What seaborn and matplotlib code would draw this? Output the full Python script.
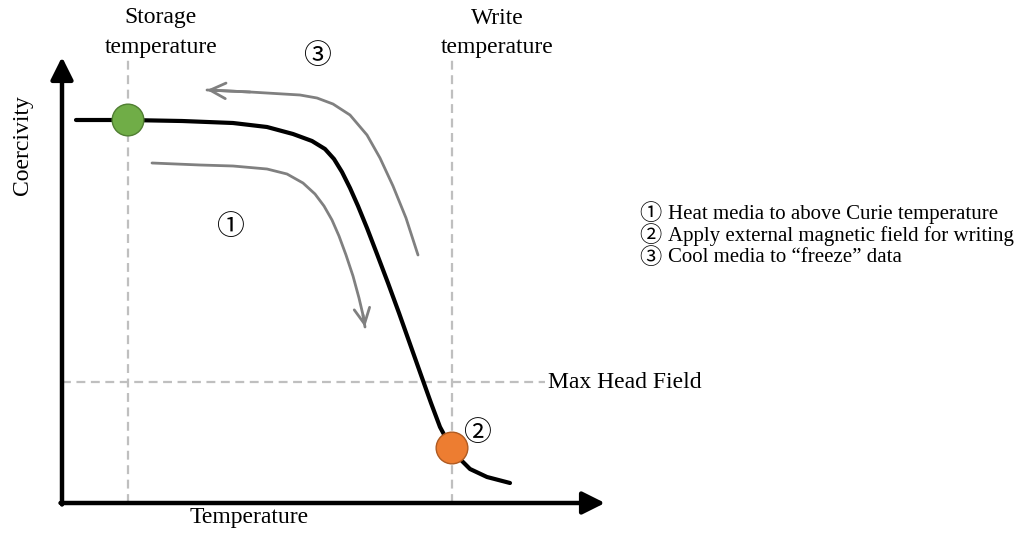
import matplotlib
matplotlib.use("Agg")
import matplotlib.pyplot as plt
import pandas as pd
import seaborn as sns

# coercivity vs temperature curve (arbitrary units, origin at the axes corner)
curve_temp = [14, 66, 120, 171, 205, 231, 250, 263, 272, 280, 288, 296, 305, 315,
              326, 337, 348, 359, 369, 378, 385, 390, 397, 408, 425, 448]
curve_coer = [383, 383, 382, 380, 376, 369, 362, 354, 344, 331, 315, 297, 275, 249,
              220, 190, 159, 128, 100, 76, 63, 55, 45, 34, 26, 20]

# step 1 arrow (heating) and step 3 arrow (cooling)
heat_temp = [90, 138, 171, 205, 225, 241, 253, 262, 270, 277, 284, 291, 297, 301, 303]
heat_coer = [340, 338, 337, 334, 329, 320, 309, 297, 283, 267, 248, 227, 205, 188, 176]
cool_temp = [356, 344, 331, 318, 305, 288, 271, 255, 238, 188, 145]
cool_coer = [248, 285, 317, 345, 368, 388, 399, 405, 408, 411, 413]

storage_temp = 66
write_temp = 390
max_head_field = 121
points_temp = [66, 390]
points_coer = [383, 55]
point_colors = ["#70AD47", "#ED7D31"]
point_edges = ["#507E32", "#AE5A21"]

step_marks = ["①", "②", "③"]
legend_lines = ["Heat media to above Curie temperature",
                "Apply external magnetic field for writing",
                "Cool media to \u201cfreeze\u201d data"]

sns.set_theme(style="white")
plt.rcParams["font.family"] = ["Liberation Serif", "DejaVu Sans"]
plt.rcParams["text.color"] = "black"

fig = plt.figure(figsize=(10.26, 5.33), dpi=100)
ax = fig.add_axes([0, 0, 1, 1])
ax.set_xlim(-62, 964)
ax.set_ylim(-30, 503)
ax.axis("off")

grey = "#BFBFBF"
dash = dict(color=grey, lw=1.6, ls=(0, (4, 2.5)), zorder=1)
ax.plot([storage_temp, storage_temp], [0, 446], **dash)
ax.plot([write_temp, write_temp], [0, 446], **dash)
ax.plot([0, 483], [max_head_field, max_head_field], **dash)

# axes arrows
arrow = dict(arrowstyle="-|>", lw=3.2, color="black", mutation_scale=34,
             shrinkA=0, shrinkB=0)
ax.annotate("", xy=(0, 446), xytext=(0, -1.5), arrowprops=arrow, zorder=4)
ax.annotate("", xy=(543, 0), xytext=(-1.5, 0), arrowprops=arrow, zorder=4)

# grey process arrows
heat = pd.DataFrame({"t": heat_temp, "c": heat_coer})
cool = pd.DataFrame({"t": cool_temp, "c": cool_coer})
for part in (heat, cool):
    sns.lineplot(data=part, x="t", y="c", sort=False, color="#808080", lw=2,
                 ax=ax, zorder=2, solid_joinstyle="round")
head = dict(arrowstyle="->", lw=2, color="#808080", mutation_scale=28,
            shrinkA=0, shrinkB=0)
ax.annotate("", xy=(heat_temp[-1], heat_coer[-1]),
            xytext=(heat_temp[-2], heat_coer[-2]), arrowprops=head)
ax.annotate("", xy=(cool_temp[-1], cool_coer[-1]),
            xytext=(cool_temp[-2], cool_coer[-2]), arrowprops=head)

# main curve and markers
df = pd.DataFrame({"temp": curve_temp, "coer": curve_coer})
sns.lineplot(data=df, x="temp", y="coer", sort=False, color="black", lw=3, ax=ax,
             zorder=3, solid_joinstyle="round")
sns.scatterplot(x=points_temp, y=points_coer, hue=points_temp,
                palette=point_colors, s=520, edgecolor=point_edges, linewidth=1,
                legend=False, ax=ax, zorder=5)
ax.set_xlabel("")
ax.set_ylabel("")

fs = 17
ax.text(99, 485, "Storage", ha="center", va="center", fontsize=fs)
ax.text(99, 456, "temperature", ha="center", va="center", fontsize=fs)
ax.text(435, 485, "Write", ha="center", va="center", fontsize=fs)
ax.text(435, 456, "temperature", ha="center", va="center", fontsize=fs)
ax.text(486, max_head_field, "Max Head Field", ha="left", va="center", fontsize=fs)
ax.text(187, -14, "Temperature", ha="center", va="center", fontsize=fs)
ax.text(-40, 358, "Coercivity", ha="center", va="center", rotation=90, fontsize=fs)

num_font = ["Noto Sans CJK JP", "DejaVu Sans"]
ax.text(255, 447, step_marks[2], ha="center", va="center", fontsize=20,
        family=num_font)
ax.text(168, 276, step_marks[0], ha="center", va="center", fontsize=20,
        family=num_font)
ax.text(415, 70, step_marks[1], ha="center", va="center", fontsize=20,
        family=num_font)

for i, (mark, line) in enumerate(zip(step_marks, legend_lines)):
    y = 289 - 22 * i
    ax.text(588, y, mark, ha="center", va="center", fontsize=16, family=num_font)
    ax.text(606, y, line, ha="left", va="center", fontsize=15)

fig.savefig("out.png", dpi=100)
